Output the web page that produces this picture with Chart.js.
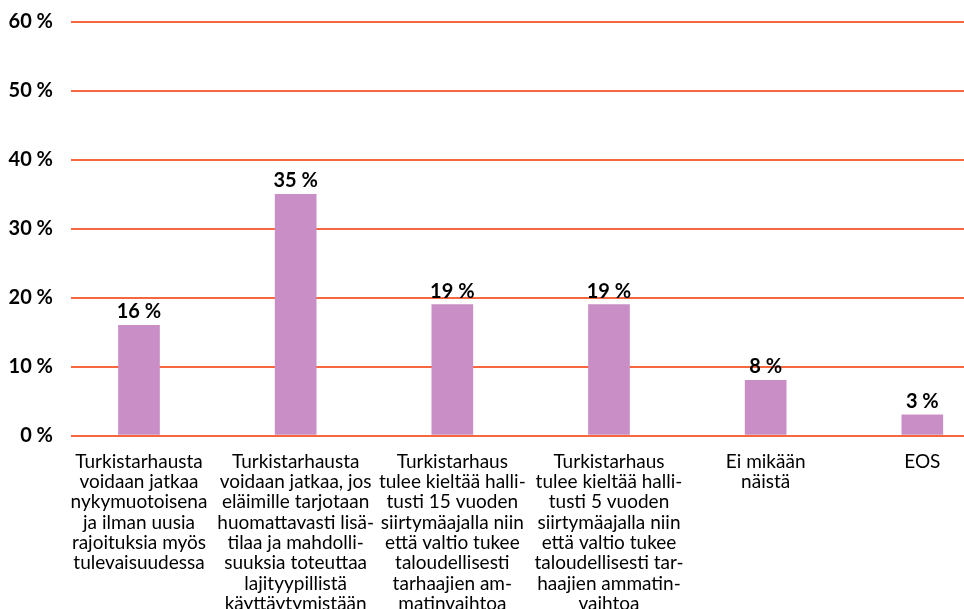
<!DOCTYPE html>
<html>
<head>
<meta charset="utf-8">
<script src="https://cdn.jsdelivr.net/npm/chart.js@4/dist/chart.umd.min.js"></script>
<style>
    html, body { margin: 0; padding: 0; background: #fff; overflow: hidden; }
    #wrap { width: 964px; height: 609px; position: relative; }
</style>
</head>
<body>
<div id="wrap"><canvas id="chart"></canvas></div>
<script>
// kategoriat riveittäin, kuten kuvassa
const categories = [
    ['Turkistarhausta', 'voidaan jatkaa', 'nykymuotoisena', 'ja ilman uusia', 'rajoituksia myös', 'tulevaisuudessa'],
    ['Turkistarhausta', 'voidaan jatkaa, jos', 'eläimille tarjotaan', 'huomattavasti lisä-', 'tilaa ja mahdolli-', 'suuksia toteuttaa', 'lajityypillistä', 'käyttäytymistään'],
    ['Turkistarhaus', 'tulee kieltää halli-', 'tusti 15 vuoden', 'siirtymäajalla niin', 'että valtio tukee', 'taloudellisesti', 'tarhaajien am-', 'matinvaihtoa'],
    ['Turkistarhaus', 'tulee kieltää halli-', 'tusti 5 vuoden', 'siirtymäajalla niin', 'että valtio tukee', 'taloudellisesti tar-', 'haajien ammatin-', 'vaihtoa'],
    ['Ei mikään', 'näistä'],
    ['EOS']
];
const values = [16, 35, 19, 19, 8, 3];
const yTicks = [0, 10, 20, 30, 40, 50, 60];

const barColor = '#C98EC5';
const gridColor = '#F6673F';

const valueLabels = {
    id: 'valueLabels',
    afterDatasetsDraw(chart) {
        const ctx = chart.ctx;
        const meta = chart.getDatasetMeta(0);
        ctx.save();
        ctx.font = 'bold 20px Lato';
        ctx.fillStyle = '#000';
        ctx.textAlign = 'center';
        ctx.textBaseline = 'alphabetic';
        meta.data.forEach((bar, i) => {
            ctx.fillText(values[i] + ' %', bar.x, bar.y - 7);
        });
        ctx.restore();
    }
};

const ctx = document.getElementById('chart').getContext('2d');
new Chart(ctx, {
    type: 'bar',
    data: {
        datasets: [{
            data: values.map((v, i) => ({ x: i, y: v })),
            backgroundColor: barColor,
            barThickness: 41
        }]
    },
    options: {
        responsive: true,
        maintainAspectRatio: false,
        animation: false,
        layout: { padding: { top: 22, left: 0, right: 0, bottom: 0 } },
        plugins: {
            legend: { display: false },
            tooltip: { enabled: false }
        },
        scales: {
            x: {
                type: 'linear',
                offset: false,
                min: -0.434,
                max: 5.266,
                grid: { display: false, drawTicks: false },
                border: { display: false },
                afterBuildTicks: (scale) => {
                    scale.ticks = categories.map((_, i) => ({ value: i }));
                },
                afterFit: (scale) => {
                    scale.height = 609 - 435.5;
                    scale.paddingLeft = 0;
                    scale.paddingRight = 0;
                },
                ticks: {
                    autoSkip: false,
                    maxRotation: 0,
                    padding: 16,
                    color: '#000',
                    font: { family: 'Lato', size: 19, lineHeight: 20.3 / 19 },
                    callback: (value) => categories[value]
                }
            },
            y: {
                min: 0,
                max: 60,
                afterBuildTicks: (scale) => {
                    scale.ticks = yTicks.map(v => ({ value: v }));
                },
                afterFit: (scale) => {
                    scale.width = 71;
                    scale.paddingTop = 0;
                    scale.paddingBottom = 0;
                },
                grid: { color: gridColor, lineWidth: 2, drawTicks: false },
                border: { display: false },
                ticks: {
                    padding: 18,
                    color: '#000',
                    font: { family: 'Lato', size: 20, weight: 'bold' },
                    callback: (value) => value + ' %'
                }
            }
        }
    },
    plugins: [valueLabels]
});
</script>
</body>
</html>
